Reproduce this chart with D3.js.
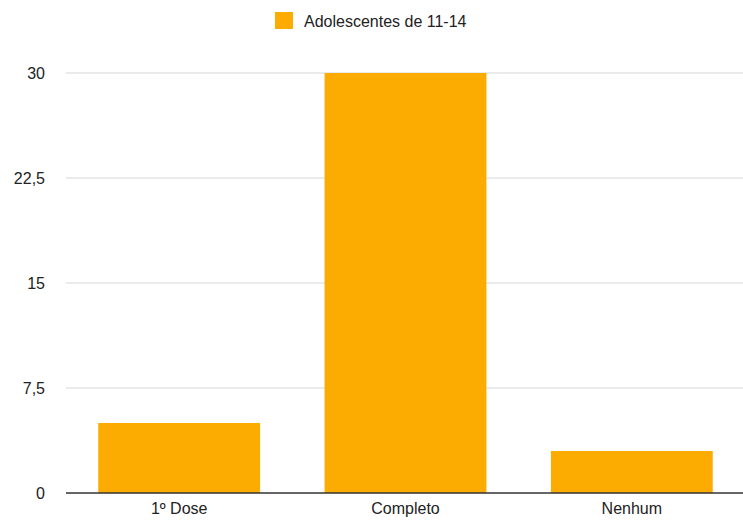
<!DOCTYPE html>
<html>
<head>
<meta charset="utf-8">
<script src="https://cdn.jsdelivr.net/npm/d3@7"></script>
<style>
  body { margin: 0; background: #fff; }
  svg { display: block; font-family: "Liberation Sans", Arial, sans-serif; }
</style>
</head>
<body>
<svg id="chart"></svg>
<script>
    const WIDTH = 743;
    const HEIGHT = 520;

    const categories = ['1º Dose', 'Completo', 'Nenhum'];
    const values = [5, 30, 3];
    const seriesName = 'Adolescentes de 11-14';
    const yTicks = [0, 7.5, 15, 22.5, 30];
    const yTickLabels = ['0', '7,5', '15', '22,5', '30'];

    const BAR_COLOR = '#fcab00';

    const svg = d3.select('#chart')
        .attr('width', WIDTH)
        .attr('height', HEIGHT);

    const x = d3.scaleBand()
        .domain(categories)
        .range([66, 745])
        .paddingInner(0.285)
        .paddingOuter(0.1425);

    const y = d3.scaleLinear()
        .domain([0, 30])
        .range([493, 73]);

    // Gridlines
    svg.append('g')
        .selectAll('line')
        .data(yTicks.filter(d => d !== 0))
        .join('line')
        .attr('x1', 66)
        .attr('x2', WIDTH)
        .attr('y1', d => y(d))
        .attr('y2', d => y(d))
        .attr('stroke', '#d6d6d6')
        .attr('stroke-width', 1);

    // Y labels
    svg.append('g')
        .selectAll('text')
        .data(yTicks)
        .join('text')
        .attr('x', 45)
        .attr('y', d => y(d))
        .attr('dy', '0.35em')
        .attr('text-anchor', 'end')
        .attr('font-size', 16)
        .attr('fill', '#222')
        .text((d, i) => yTickLabels[i]);

    // Bars
    svg.append('g')
        .selectAll('rect')
        .data(values)
        .join('rect')
        .attr('x', (d, i) => x(categories[i]))
        .attr('width', x.bandwidth())
        .attr('y', d => y(d))
        .attr('height', d => y(0) - y(d))
        .attr('fill', BAR_COLOR);

    // Baseline
    svg.append('line')
        .attr('x1', 66)
        .attr('x2', WIDTH)
        .attr('y1', y(0))
        .attr('y2', y(0))
        .attr('stroke', '#333')
        .attr('stroke-width', 1.5);

    // Category labels
    svg.append('g')
        .selectAll('text')
        .data(categories)
        .join('text')
        .attr('x', d => x(d) + x.bandwidth() / 2)
        .attr('y', 514)
        .attr('text-anchor', 'middle')
        .attr('font-size', 16)
        .attr('fill', '#222')
        .text(d => d);

    // Legend
    const legend = svg.append('g');
    legend.append('rect')
        .attr('x', 275)
        .attr('y', 12)
        .attr('width', 18)
        .attr('height', 17)
        .attr('fill', BAR_COLOR);
    legend.append('text')
        .attr('x', 304)
        .attr('y', 27)
        .attr('font-size', 16)
        .attr('fill', '#222')
        .text(seriesName);
</script>
</body>
</html>
